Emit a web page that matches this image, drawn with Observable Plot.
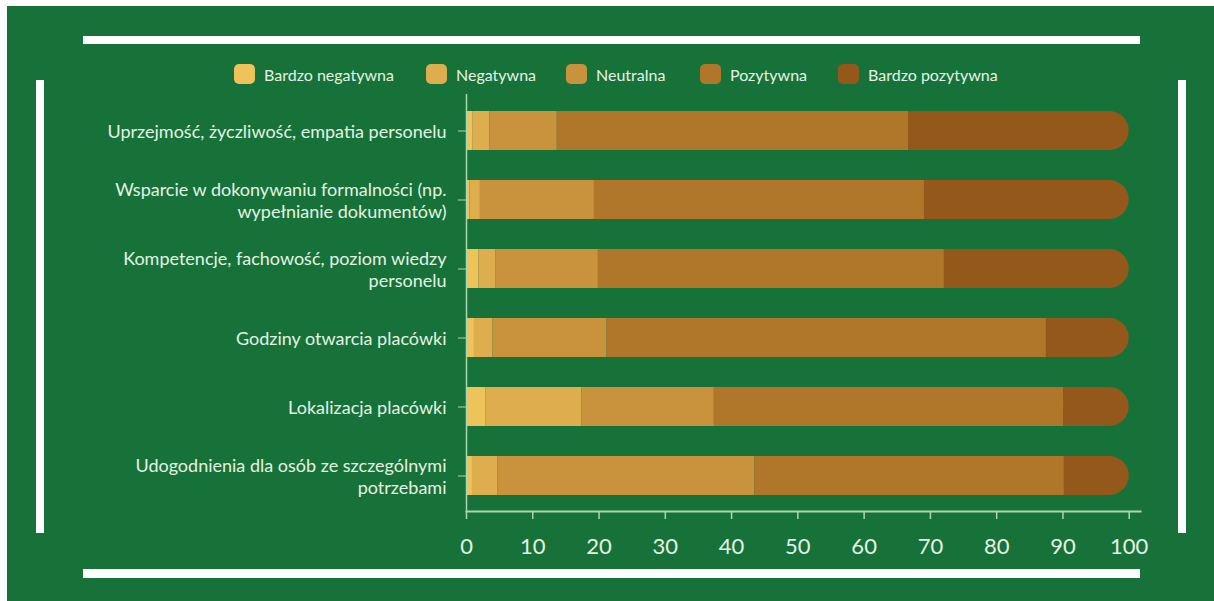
<!DOCTYPE html>
<html>
<head>
<meta charset="utf-8">
<script src="https://cdn.jsdelivr.net/npm/d3@7"></script>
<script src="https://cdn.jsdelivr.net/npm/@observablehq/plot@0.6"></script>
<style>
  html, body { margin: 0; padding: 0; background: #ffffff; width: 1214px; height: 601px; overflow: hidden; }
  #bg { position: absolute; left: 7px; top: 6px; width: 1207px; height: 595px; background: #177239; }
  .bar { position: absolute; background: #ffffff; }
  #legend { position: absolute; top: 64px; left: 0; height: 20px; font-family: Lato, sans-serif; font-size: 16px; color: #e4f2e4; }
  .item { position: absolute; top: 0; height: 20px; display: flex; align-items: center; white-space: nowrap; }
  .sw { width: 21px; height: 20px; border-radius: 5px; margin-right: 9px; }
  #chart { position: absolute; left: 0; top: 0; }
</style>
</head>
<body>
<div id="bg"></div>
<div class="bar" style="left:83px; top:36px; width:1057px; height:8px;"></div>
<div class="bar" style="left:83px; top:569px; width:1057px; height:9px;"></div>
<div class="bar" style="left:36px; top:80px; width:8px; height:453px;"></div>
<div class="bar" style="left:1178px; top:80px; width:8px; height:453px;"></div>
<div id="legend"></div>
<div id="chart"></div>
<script>
// Categories (top to bottom)
const categories = [
  "Uprzejmość, życzliwość, empatia personelu",
  "Wsparcie w dokonywaniu formalności (np. wypełnianie dokumentów)",
  "Kompetencje, fachowość, poziom wiedzy personelu",
  "Godziny otwarcia placówki",
  "Lokalizacja placówki",
  "Udogodnienia dla osób ze szczególnymi potrzebami"
];
// Displayed tick labels (wrapped as in the reference)
const tickLabels = [
  "Uprzejmość, życzliwość, empatia personelu",
  "Wsparcie w dokonywaniu formalności (np.\nwypełnianie dokumentów)",
  "Kompetencje, fachowość, poziom wiedzy\npersonelu",
  "Godziny otwarcia placówki",
  "Lokalizacja placówki",
  "Udogodnienia dla osób ze szczególnymi\npotrzebami"
];
// Series
const seriesNames = ["Bardzo negatywna", "Negatywna", "Neutralna", "Pozytywna", "Bardzo pozytywna"];
const seriesColors = ["#eec35a", "#dead4e", "#c9923c", "#b0762a", "#94581a"];
// Values (%) per series, in category order
const bardzoNegatywna = [1.0, 0.5, 1.9, 1.2, 2.9, 0.9];
const negatywna       = [2.5, 1.6, 2.5, 2.8, 14.5, 3.8];
const neutralna       = [10.2, 17.2, 15.5, 17.2, 20.0, 38.8];
const pozytywna       = [53.0, 49.8, 52.2, 66.3, 52.7, 46.7];
const bardzoPozytywna = [33.3, 30.9, 27.9, 12.5, 9.9, 9.8];
const xTicks = [0, 10, 20, 30, 40, 50, 60, 70, 80, 90, 100];

const seriesValues = [bardzoNegatywna, negatywna, neutralna, pozytywna, bardzoPozytywna];

// Build segment table (cumulative)
const segs = [];
categories.forEach((c, i) => {
  let acc = 0;
  seriesValues.forEach((vals, s) => {
    const v = vals[i];
    segs.push({cat: c, series: seriesNames[s], x1: acc, x2: acc + v, last: s === seriesValues.length - 1});
    acc += v;
  });
});
const lastSegs = segs.filter(d => d.last);
const otherSegs = segs.filter(d => !d.last);

// Legend
const legend = document.getElementById("legend");
const legendLefts = [234, 426, 566, 700, 838];
seriesNames.forEach((n, i) => {
  const it = document.createElement("div");
  it.className = "item";
  it.style.left = legendLefts[i] + "px";
  it.innerHTML = `<div class="sw" style="background:${seriesColors[i]}"></div><span>${n}</span>`;
  legend.appendChild(it);
});

const labelMap = new Map(categories.map((c, i) => [c, tickLabels[i]]));
const axisColor = "#a9d8b2";
const textColor = "#e4f2e4";

const chart = Plot.plot({
  width: 1214,
  height: 601,
  marginLeft: 466,
  marginRight: 74,
  marginTop: 94,
  marginBottom: 90,
  style: {background: "transparent", fontFamily: "Lato, sans-serif", overflow: "visible"},
  x: {domain: [0, 101.7], ticks: xTicks},
  y: {domain: categories, paddingInner: 0.44, paddingOuter: 0.22},
  color: {domain: seriesNames, range: seriesColors},
  marks: [
    Plot.barX(lastSegs, {y: "cat", x1: "x1", x2: "x2", fill: "series", rx: 19.5}),
    Plot.barX(lastSegs, {y: "cat", x1: "x1", x2: d => (d.x1 + d.x2) / 2, fill: "series"}),
    Plot.barX(otherSegs, {y: "cat", x1: "x1", x2: "x2", fill: "series"}),
    Plot.ruleX([0], {stroke: axisColor, strokeWidth: 1.5}),
    Plot.frame({anchor: "bottom", stroke: axisColor, strokeWidth: 2}),
    Plot.axisX({ticks: xTicks, tickSize: 8, tickPadding: 19, stroke: axisColor, strokeWidth: 1.5,
      fill: textColor, fontSize: 22, label: null, tickFormat: d => String(d)}),
    Plot.axisY({tickSize: 8, tickPadding: 12, stroke: axisColor, fill: textColor, fontSize: 18,
      lineHeight: 1.25, label: null, tickFormat: d => labelMap.get(d)})
  ]
});
document.getElementById("chart").appendChild(chart);
</script>
</body>
</html>
